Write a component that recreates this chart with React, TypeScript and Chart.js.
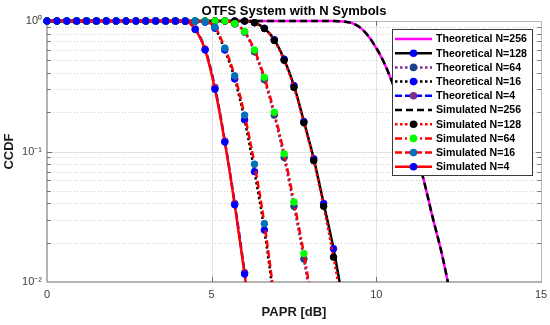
import React, { useEffect, useRef } from "react";
import { Chart, registerables } from "chart.js";
Chart.register(...registerables);

// PAPR grid (dB)
const PAPR_DB = [0, 0.3, 0.6, 0.9, 1.2, 1.5, 1.8, 2.1, 2.4, 2.7, 3.0, 3.3, 3.6, 3.9, 4.2, 4.5, 4.8, 5.1, 5.4, 5.7, 6.0, 6.3, 6.6, 6.9, 7.2, 7.5, 7.8, 8.1, 8.4, 8.7, 9.0, 9.3, 9.6, 9.9, 10.2, 10.5, 10.8, 11.1, 11.4, 11.7, 12.0, 12.3, 12.6];

const THEO_N256 = [1, 1, 1, 1, 1, 1, 1, 1, 1, 1, 1, 1, 1, 1, 1, 1, 1, 1, 1, 1, 1, 1, 1, 1, 1, 1, 1, 1, 1, 1, 0.99, 0.955, 0.85, 0.68, 0.5, 0.33, 0.2, 0.117, 0.066, 0.032, 0.016, 0.0068, 0.0026];
const THEO_N128 = [1, 1, 1, 1, 1, 1, 1, 1, 1, 1, 1, 1, 1, 1, 1, 1, 1, 1, 1, 1, 0.998, 0.97, 0.88, 0.72, 0.51, 0.32, 0.17, 0.088, 0.04, 0.018, 0.0068];
const THEO_N64 = [1, 1, 1, 1, 1, 1, 1, 1, 1, 1, 1, 1, 1, 1, 1, 1, 1, 1, 1, 0.95, 0.82, 0.58, 0.355, 0.19, 0.09, 0.038, 0.015, 0.0052];
const THEO_N16 = [1, 1, 1, 1, 1, 1, 1, 1, 1, 1, 1, 1, 1, 1, 1, 0.998, 0.98, 0.88, 0.6, 0.36, 0.175, 0.07, 0.025, 0.0068, 0.0014];
const THEO_N4 = [1, 1, 1, 1, 1, 1, 1, 1, 1, 1, 1, 1, 1, 1, 0.995, 0.87, 0.61, 0.31, 0.12, 0.04, 0.0118, 0.0031];

const SIM_N256 = [1, 1, 1, 1, 1, 1, 1, 1, 1, 1, 1, 1, 1, 1, 1, 1, 1, 1, 1, 1, 1, 1, 1, 1, 1, 1, 1, 1, 1, 1, 0.99, 0.955, 0.85, 0.68, 0.5, 0.33, 0.2, 0.117, 0.066, 0.032, 0.016, 0.0068, 0.0026];
const SIM_N128 = [1, 1, 1, 1, 1, 1, 1, 1, 1, 1, 1, 1, 1, 1, 1, 1, 1, 1, 1, 1, 0.998, 0.97, 0.875, 0.71, 0.5, 0.31, 0.166, 0.085, 0.038, 0.0155, 0.0058];
const SIM_N64 = [1, 1, 1, 1, 1, 1, 1, 1, 1, 1, 1, 1, 1, 1, 1, 1, 1, 1, 1, 0.955, 0.83, 0.6, 0.37, 0.2, 0.096, 0.041, 0.0165, 0.0058];
const SIM_N16 = [1, 1, 1, 1, 1, 1, 1, 1, 1, 1, 1, 1, 1, 1, 1, 0.998, 0.985, 0.9, 0.62, 0.38, 0.19, 0.08, 0.028, 0.0075, 0.0015];
const SIM_N4 = [1, 1, 1, 1, 1, 1, 1, 1, 1, 1, 1, 1, 1, 1, 0.995, 0.86, 0.6, 0.3, 0.118, 0.039, 0.0115, 0.003];

const X_TICKS = [0, 5, 10, 15];
const Y_TICKS = [0.01, 0.1, 1];
const Y_TICK_LABELS = ["10\u207B\u00B2", "10\u207B\u00B9", "10\u2070"];
const TITLE = "OTFS System with N Symbols";
const X_LABEL = "PAPR [dB]";
const Y_LABEL = "CCDF";

const FONT = '"Liberation Sans", Arial, Helvetica, sans-serif';

type Series = { label: string; data: number[]; color: string; dash: number[]; marker: string | null; width: number };

const SERIES: Series[] = [
  { label: "Theoretical N=256", data: THEO_N256, color: "#ff00ff", dash: [], marker: null, width: 2.5 },
  { label: "Theoretical N=128", data: THEO_N128, color: "#000000", dash: [], marker: "#0000ff", width: 2.5 },
  { label: "Theoretical N=64", data: THEO_N64, color: "#7e2f8e", dash: [2.5, 2.5], marker: "#1f3f8f", width: 2.5 },
  { label: "Theoretical N=16", data: THEO_N16, color: "#000000", dash: [2.5, 2.5], marker: "#0000ff", width: 2.5 },
  { label: "Theoretical N=4", data: THEO_N4, color: "#0000ff", dash: [7, 3], marker: "#7e2f8e", width: 2.5 },
  { label: "Simulated N=256", data: SIM_N256, color: "#000000", dash: [7, 4], marker: null, width: 2.5 },
  { label: "Simulated N=128", data: SIM_N128, color: "#ff0000", dash: [2.5, 2.5], marker: "#000000", width: 2.5 },
  { label: "Simulated N=64", data: SIM_N64, color: "#ff0000", dash: [7, 3, 2, 3], marker: "#00ff00", width: 2.5 },
  { label: "Simulated N=16", data: SIM_N16, color: "#ff0000", dash: [7, 3], marker: "#0072bd", width: 2.5 },
  { label: "Simulated N=4", data: SIM_N4, color: "#ff0000", dash: [], marker: "#0000ff", width: 2.5 },
];

const framePlugin = {
  id: "frame",
  beforeDatasetsDraw(chart: any) {
    const { ctx, chartArea: a, scales } = chart;
    const x = scales.x;
    const y = scales.y;
    ctx.save();
    // minor dotted grid
    ctx.strokeStyle = "#cfcfcf";
    ctx.lineWidth = 1;
    ctx.setLineDash([1, 2]);
    const minors: number[] = [];
    for (const d of [0.01, 0.1]) for (let k = 2; k <= 9; k++) minors.push(k * d);
    for (const v of minors) {
      const py = Math.round(y.getPixelForValue(v)) + 0.5;
      ctx.beginPath();
      ctx.moveTo(a.left, py);
      ctx.lineTo(a.right, py);
      ctx.stroke();
    }
    // major grid
    ctx.setLineDash([]);
    ctx.strokeStyle = "#e2e2e2";
    for (const v of [0.1]) {
      const py = Math.round(y.getPixelForValue(v)) + 0.5;
      ctx.beginPath();
      ctx.moveTo(a.left, py);
      ctx.lineTo(a.right, py);
      ctx.stroke();
    }
    for (const v of [5, 10]) {
      const px = Math.round(x.getPixelForValue(v)) + 0.5;
      ctx.beginPath();
      ctx.moveTo(px, a.top);
      ctx.lineTo(px, a.bottom);
      ctx.stroke();
    }
    // box
    ctx.strokeStyle = "#b8b8b8";
    ctx.lineWidth = 1;
    ctx.beginPath();
    ctx.moveTo(a.left, a.top + 0.5);
    ctx.lineTo(a.right + 0.5, a.top + 0.5);
    ctx.lineTo(a.right + 0.5, a.bottom);
    ctx.stroke();
    ctx.strokeStyle = "#9c9c9c";
    ctx.lineWidth = 1.5;
    ctx.beginPath();
    ctx.moveTo(a.left, a.top);
    ctx.lineTo(a.left, a.bottom);
    ctx.lineTo(a.right + 1, a.bottom);
    ctx.stroke();
    // ticks
    ctx.strokeStyle = "#707070";
    ctx.lineWidth = 1;
    for (const v of minors) {
      const py = Math.round(y.getPixelForValue(v)) + 0.5;
      ctx.beginPath();
      ctx.moveTo(a.left, py);
      ctx.lineTo(a.left + 3.5, py);
      ctx.moveTo(a.right, py);
      ctx.lineTo(a.right - 3.5, py);
      ctx.stroke();
    }
    for (const v of [0.1]) {
      const py = Math.round(y.getPixelForValue(v)) + 0.5;
      ctx.beginPath();
      ctx.moveTo(a.left, py);
      ctx.lineTo(a.left + 5, py);
      ctx.moveTo(a.right, py);
      ctx.lineTo(a.right - 5, py);
      ctx.stroke();
    }
    for (const v of [5, 10]) {
      const px = Math.round(x.getPixelForValue(v)) + 0.5;
      ctx.beginPath();
      ctx.moveTo(px, a.bottom);
      ctx.lineTo(px, a.bottom - 5);
      ctx.moveTo(px, a.top);
      ctx.lineTo(px, a.top + 5);
      ctx.stroke();
    }
    ctx.restore();
  },
  afterDraw(chart: any) {
    const { ctx, chartArea: a } = chart;
    ctx.save();
    ctx.fillStyle = "#000000";
    ctx.textAlign = "center";
    ctx.textBaseline = "middle";
    const cx = (a.left + a.right) / 2;
    ctx.font = "bold 13px " + FONT;
    ctx.fillText(TITLE, cx, 11);
    ctx.fillStyle = "#1a1a1a";
    ctx.fillText(X_LABEL, cx, 312);
    ctx.save();
    ctx.translate(9, (a.top + a.bottom) / 2);
    ctx.rotate(-Math.PI / 2);
    ctx.fillText(Y_LABEL, 0, 0);
    ctx.restore();

    // legend
    const bx = 392.5, by = 29.5, bw = 140, bh = 146;
    ctx.fillStyle = "#ffffff";
    ctx.fillRect(bx, by, bw, bh);
    ctx.strokeStyle = "#3a3a3a";
    ctx.lineWidth = 1;
    ctx.setLineDash([]);
    ctx.strokeRect(bx, by, bw, bh);
    ctx.font = "bold 10.6px " + FONT;
    ctx.textAlign = "left";
    SERIES.forEach((s, i) => {
      const ry = 39 + i * 14.2;
      ctx.setLineDash(s.dash);
      ctx.strokeStyle = s.color;
      ctx.lineWidth = s.width;
      ctx.beginPath();
      ctx.moveTo(395, ry);
      ctx.lineTo(432, ry);
      ctx.stroke();
      ctx.setLineDash([]);
      if (s.marker) {
        ctx.fillStyle = s.marker;
        ctx.beginPath();
        ctx.arc(413.5, ry, 3.8, 0, Math.PI * 2);
        ctx.fill();
      }
      ctx.fillStyle = "#000000";
      ctx.fillText(s.label, 436, ry + 0.5);
    });
    ctx.restore();
  },
};

export default function App() {
  const ref = useRef<HTMLCanvasElement | null>(null);
  useEffect(() => {
    if (!ref.current) return;
    const datasets = SERIES.map((s, i) => ({
      label: s.label,
      data: s.data.map((v, k) => ({ x: PAPR_DB[k], y: v })),
      borderColor: s.color,
      borderWidth: s.width,
      borderDash: s.dash,
      backgroundColor: s.marker || s.color,
      pointRadius: s.marker ? 3.3 : 0,
      pointBorderWidth: 1,
      pointBackgroundColor: s.marker || s.color,
      pointBorderColor: s.marker || s.color,
      cubicInterpolationMode: "monotone" as const,
      fill: false,
      order: SERIES.length - i,
      clip: { left: 6, top: 6, right: 0, bottom: 0 },
    }));
    const chart = new Chart(ref.current, {
      type: "line",
      data: { datasets },
      options: {
        animation: false,
        responsive: false,
        layout: { padding: { left: 0, right: 9, top: 21, bottom: 0 } },
        plugins: { legend: { display: false }, tooltip: { enabled: false }, title: { display: false } },
        scales: {
          x: {
            type: "linear",
            min: 0,
            max: 15,
            afterBuildTicks: (s: any) => { s.ticks = X_TICKS.map((v) => ({ value: v })); },
            afterFit: (s: any) => { s.height = 43; s.paddingLeft = 0; s.paddingRight = 0; },
            ticks: { font: { size: 11, family: FONT }, color: "#404040", padding: 6, maxRotation: 0 },
            grid: { display: false, drawTicks: false },
            border: { display: false },
          },
          y: {
            type: "logarithmic",
            min: 0.01,
            max: 1,
            afterBuildTicks: (s: any) => { s.ticks = Y_TICKS.map((v) => ({ value: v })); },
            afterFit: (s: any) => { s.width = 47; s.paddingTop = 0; s.paddingBottom = 0; },
            ticks: {
              font: { size: 11, family: FONT },
              color: "#404040",
              padding: 5,
              callback: (v: any) => {
                const idx = Y_TICKS.findIndex((t) => Math.abs(t - Number(v)) < 1e-9);
                return idx >= 0 ? Y_TICK_LABELS[idx] : "";
              },
            },
            grid: { display: false, drawTicks: false },
            border: { display: false },
          },
        },
      },
      plugins: [framePlugin],
    });
    return () => chart.destroy();
  }, []);
  return (
    <div style={{ position: "absolute", left: 0, top: 0, width: 550, height: 325, background: "#ffffff" }}>
      <canvas ref={ref} width={550} height={325} style={{ display: "block", width: 550, height: 325 }} />
    </div>
  );
}
